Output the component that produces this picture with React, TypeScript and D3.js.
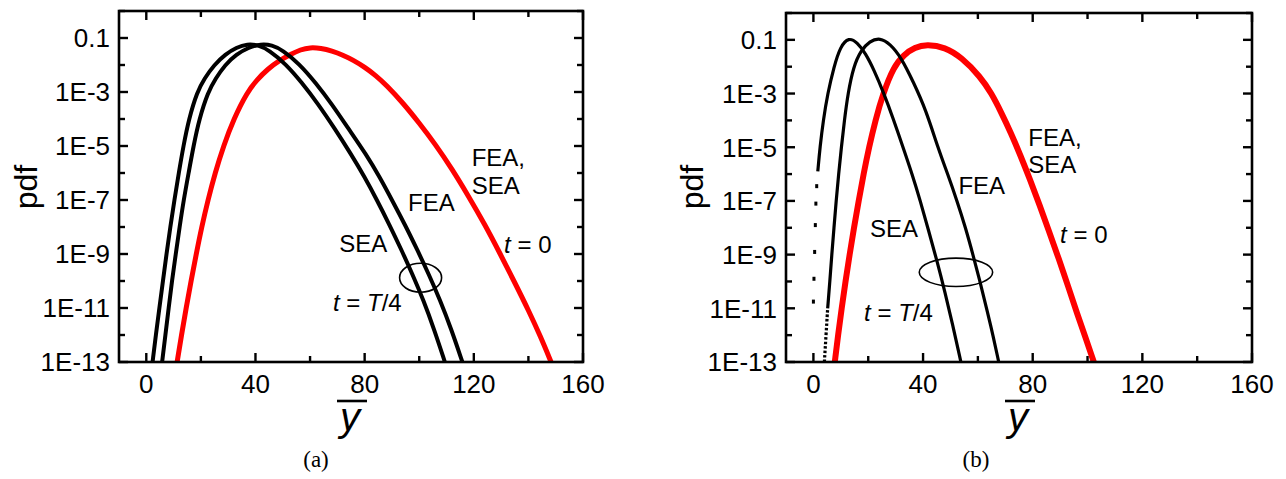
import React from "react";
import * as d3 from "d3";

const W = 1286;
const H = 479;

const X_MAJOR = [0, 40, 80, 120, 160];
const X_MINOR = [20, 60, 100, 140];
const Y_MAJOR_EXP = [-1, -3, -5, -7, -9, -11, -13];
const Y_MAJOR_LABELS = ["0.1", "1E-3", "1E-5", "1E-7", "1E-9", "1E-11", "1E-13"];
const Y_MINOR_EXP = [0, -2, -4, -6, -8, -10, -12];

// values: [ybar, log10(pdf)]
// panel (a)
const a_t0: [number, number][] = [
  [11.3, -13], [12.9, -12], [14.6, -11], [16.4, -10], [18.3, -9], [20.3, -8], [22.6, -7],
  [25.2, -6], [28.3, -5], [32, -4], [37, -3], [40.5, -2.55], [44.5, -2.15], [48.5, -1.85],
  [53, -1.6], [56.5, -1.43], [60, -1.35], [64, -1.38], [68, -1.48], [72, -1.63], [76, -1.83],
  [80, -2.08], [84, -2.38], [88, -2.75], [94, -3.4], [100, -4.15], [106, -4.95], [112, -5.85],
  [118, -6.85], [124, -7.9], [129.7, -9], [135.2, -10.1], [140.1, -11.1], [144.4, -12.05],
  [148.3, -13],
];
const a_SEA: [number, number][] = [
  [2.3, -13], [3.5, -12], [4.8, -11], [6.1, -10], [7.4, -9], [8.8, -8], [10.3, -7],
  [11.9, -6], [13.6, -5], [15.6, -4], [18.6, -3], [21.3, -2.5], [24.8, -2], [29, -1.6],
  [33, -1.35], [37, -1.22], [41, -1.26], [45, -1.45], [51, -1.95], [57, -2.65], [63, -3.45],
  [69, -4.35], [75, -5.3], [80, -6.15], [84.5, -7], [89, -7.9], [93.5, -8.85], [97.5, -9.75],
  [101.5, -10.7], [105.5, -11.8], [109.4, -13],
];
const a_FEA: [number, number][] = [
  [5.8, -13], [7, -12], [8.2, -11], [9.4, -10], [10.8, -9], [12.2, -8], [13.7, -7],
  [15.5, -6], [17.3, -5], [19.4, -4], [22.6, -3], [25.4, -2.5], [28.8, -2], [33, -1.6],
  [37.5, -1.35], [42, -1.22], [46, -1.26], [50, -1.45], [56, -1.95], [62, -2.65], [68, -3.45],
  [74, -4.35], [80.5, -5.3], [85.5, -6.15], [90, -7], [94.7, -7.9], [99.3, -8.85],
  [103.5, -9.75], [107.6, -10.7], [111.8, -11.8], [115.8, -13],
];

// panel (b)
const b_t0: [number, number][] = [
  [7.8, -13], [9.0, -12], [10.3, -11], [11.7, -10], [13.2, -9], [14.8, -8], [16.5, -7],
  [18.3, -6], [20.3, -5], [22.6, -4], [25.4, -3], [29.3, -2], [33, -1.55], [37, -1.28],
  [41.3, -1.17], [48, -1.27], [54, -1.65], [60.9, -2.37], [65, -3.0], [68.5, -3.7],
  [72, -4.45], [75.5, -5.3], [79, -6.2], [82.5, -7.15], [86, -8.15], [89.5, -9.15],
  [93, -10.2], [96.2, -11.2], [99.3, -12.1], [102.3, -13],
];
const b_SEA: [number, number][] = [
  [1.6, -5.9], [2.4, -5], [3.6, -4], [5.2, -3], [7.5, -2], [9.8, -1.25], [12.9, -0.9],
  [16, -1.1], [19, -1.5], [22, -2.1], [25.7, -2.99], [29, -3.9], [33, -5.1], [36, -6.0],
  [39, -7], [42, -8.1], [45, -9.2], [48, -10.4], [51, -11.7], [53.8, -13],
];
const b_SEA_tail: [number, number][] = [
  [1.2, -6.45], [0.9, -7.1], [0.7, -7.9], [0.45, -8.9], [0.2, -9.9], [0, -10.75],
];
const b_FEA: [number, number][] = [
  [5.2, -11], [6.0, -10], [6.7, -9], [7.5, -8], [8.3, -7], [9.2, -6], [10.2, -5],
  [11.3, -4], [12.6, -3], [14.6, -2], [17.3, -1.4], [20.5, -1.05], [24.3, -0.92],
  [28, -1.15], [32, -1.65], [36.6, -2.6], [41, -3.6], [45.7, -5.1], [49, -6.0],
  [52.4, -7.0], [55.5, -8.0], [58.2, -9.0], [60.9, -10.05], [63.4, -11.1], [65.5, -12],
  [67.6, -13],
];
const b_FEA_tail: [number, number][] = [[4.0, -13], [4.6, -12], [5.2, -11]];

type Curve = { pts: [number, number][]; color: string; width: number; dash?: string };
type Label = { x: number; y: number; parts: [string, boolean][] };

type PanelProps = {
  box: { l: number; t: number; r: number; b: number };
  curves: Curve[];
  dots?: [number, number][];
  labels: Label[];
  ellipse: { x: number; y: number; rx: number; ry: number };
  yLabelX: number;
  xLabelX: number;
  caption: string;
  captionX: number;
  id: string;
};

const FONT = "'Liberation Sans', Arial, Helvetica, sans-serif";

function Panel({ box, curves, dots, labels, ellipse, yLabelX, xLabelX, caption, captionX, id }: PanelProps) {
  const x = d3.scaleLinear().domain([-10, 160]).range([box.l, box.r]);
  const y = d3.scaleLog().domain([1e-13, 1]).range([box.b, box.t]);
  const line = d3
    .line<[number, number]>()
    .x((d) => x(d[0]))
    .y((d) => y(Math.pow(10, d[1])))
    .curve(d3.curveBasis);

  const major = 9;
  const minor = 6;

  return (
    <g>
      <defs>
        <clipPath id={id}>
          <rect x={box.l} y={box.t} width={box.r - box.l} height={box.b - box.t} />
        </clipPath>
      </defs>

      <g clipPath={`url(#${id})`}>
        {curves.map((c, i) => (
          <path
            key={i}
            d={line(c.pts) || ""}
            fill="none"
            stroke={c.color}
            strokeWidth={c.width}
            strokeDasharray={c.dash}
          />
        ))}
        {dots &&
          dots.map((d, i) => (
            <rect key={i} x={x(d[0]) - 1.5} y={y(Math.pow(10, d[1])) - 2} width={3} height={4} fill="#000" />
          ))}
      </g>

      <ellipse
        cx={x(ellipse.x)}
        cy={y(Math.pow(10, ellipse.y))}
        rx={ellipse.rx}
        ry={ellipse.ry}
        fill="none"
        stroke="#000"
        strokeWidth={1.6}
      />

      {labels.map((lb, i) => (
        <text key={i} x={x(lb.x)} y={y(Math.pow(10, lb.y))} fontFamily={FONT} fontSize={24} fill="#000">
          {lb.parts.map(([s, it], j) => (
            <tspan key={j} fontStyle={it ? "italic" : "normal"}>
              {s}
            </tspan>
          ))}
        </text>
      ))}

      {/* frame */}
      <rect x={box.l} y={box.t} width={box.r - box.l} height={box.b - box.t} fill="none" stroke="#000" strokeWidth={2.6} />

      {/* x ticks, bottom and top */}
      {X_MAJOR.map((v) => (
        <g key={"xm" + v}>
          <line x1={x(v)} x2={x(v)} y1={box.b} y2={box.b - major} stroke="#000" strokeWidth={2.4} />
          <line x1={x(v)} x2={x(v)} y1={box.t} y2={box.t + major} stroke="#000" strokeWidth={2.4} />
          <text x={x(v)} y={box.b + 31} textAnchor="middle" fontFamily={FONT} fontSize={26}>
            {v}
          </text>
        </g>
      ))}
      {X_MINOR.map((v) => (
        <g key={"xn" + v}>
          <line x1={x(v)} x2={x(v)} y1={box.b} y2={box.b - minor} stroke="#000" strokeWidth={2.4} />
          <line x1={x(v)} x2={x(v)} y1={box.t} y2={box.t + minor} stroke="#000" strokeWidth={2.4} />
        </g>
      ))}

      {/* y ticks, left and right */}
      {Y_MAJOR_EXP.map((e, i) => (
        <g key={"ym" + e}>
          <line x1={box.l} x2={box.l + major} y1={y(Math.pow(10, e))} y2={y(Math.pow(10, e))} stroke="#000" strokeWidth={2.4} />
          <line x1={box.r} x2={box.r - major} y1={y(Math.pow(10, e))} y2={y(Math.pow(10, e))} stroke="#000" strokeWidth={2.4} />
          <text x={box.l - 9} y={y(Math.pow(10, e)) + 9.3} textAnchor="end" fontFamily={FONT} fontSize={26}>
            {Y_MAJOR_LABELS[i]}
          </text>
        </g>
      ))}
      {Y_MINOR_EXP.map((e) => (
        <g key={"yn" + e}>
          <line x1={box.l} x2={box.l + minor} y1={y(Math.pow(10, e))} y2={y(Math.pow(10, e))} stroke="#000" strokeWidth={2.4} />
          <line x1={box.r} x2={box.r - minor} y1={y(Math.pow(10, e))} y2={y(Math.pow(10, e))} stroke="#000" strokeWidth={2.4} />
        </g>
      ))}

      {/* axis titles */}
      <text
        transform={`translate(${yLabelX},187) rotate(-90)`}
        textAnchor="middle"
        fontFamily={FONT}
        fontSize={32}
      >
        pdf
      </text>
      <line x1={xLabelX - 15} x2={xLabelX + 15} y1={401} y2={401} stroke="#000" strokeWidth={2.6} />
      <text x={xLabelX - 2} y={431} textAnchor="middle" fontFamily={FONT} fontSize={40} fontStyle="italic">
        y
      </text>

      <text x={captionX} y={467} textAnchor="middle" fontFamily="'Liberation Serif', 'Times New Roman', serif" fontSize={23}>
        {caption}
      </text>
    </g>
  );
}

export default function App() {
  return (
    <svg
      width={W}
      height={H}
      viewBox={`0 0 ${W} ${H}`}
      style={{ position: "absolute", left: 0, top: 0, background: "#fff", display: "block" }}
    >
      <rect x={0} y={0} width={W} height={H} fill="#fff" />
      <Panel
        id="clipA"
        box={{ l: 119, t: 11, r: 583, b: 362 }}
        curves={[
          { pts: a_t0, color: "#ff0000", width: 5 },
          { pts: a_SEA, color: "#000", width: 4 },
          { pts: a_FEA, color: "#000", width: 4 },
        ]}
        labels={[
          { x: 119.2, y: -5.74, parts: [["FEA,", false]] },
          { x: 119.2, y: -6.78, parts: [["SEA", false]] },
          { x: 95.9, y: -7.41, parts: [["FEA", false]] },
          { x: 70.7, y: -8.93, parts: [["SEA", false]] },
          { x: 68.4, y: -11.11, parts: [["t", true], [" = ", false], ["T", true], ["/4", false]] },
          { x: 131.1, y: -8.96, parts: [["t", true], [" = 0", false]] },
        ]}
        ellipse={{ x: 100.5, y: -9.88, rx: 21, ry: 14.5 }}
        yLabelX={36.5}
        xLabelX={352}
        caption="(a)"
        captionX={316}
      />
      <Panel
        id="clipB"
        box={{ l: 786, t: 13, r: 1252, b: 362 }}
        curves={[
          { pts: b_t0, color: "#ff0000", width: 6 },
          { pts: b_SEA, color: "#000", width: 3.2 },
          { pts: b_FEA, color: "#000", width: 3.2 },
          { pts: b_FEA_tail, color: "#000", width: 3.2, dash: "2.5 2" },
        ]}
        dots={b_SEA_tail}
        labels={[
          { x: 78.4, y: -4.95, parts: [["FEA,", false]] },
          { x: 78.4, y: -5.96, parts: [["SEA", false]] },
          { x: 52.9, y: -6.74, parts: [["FEA", false]] },
          { x: 20.6, y: -8.34, parts: [["SEA", false]] },
          { x: 18.5, y: -11.47, parts: [["t", true], [" = ", false], ["T", true], ["/4", false]] },
          { x: 90, y: -8.57, parts: [["t", true], [" = 0", false]] },
        ]}
        ellipse={{ x: 52.0, y: -9.66, rx: 36.7, ry: 14.2 }}
        yLabelX={703}
        xLabelX={1020}
        caption="(b)"
        captionX={976}
      />
    </svg>
  );
}
